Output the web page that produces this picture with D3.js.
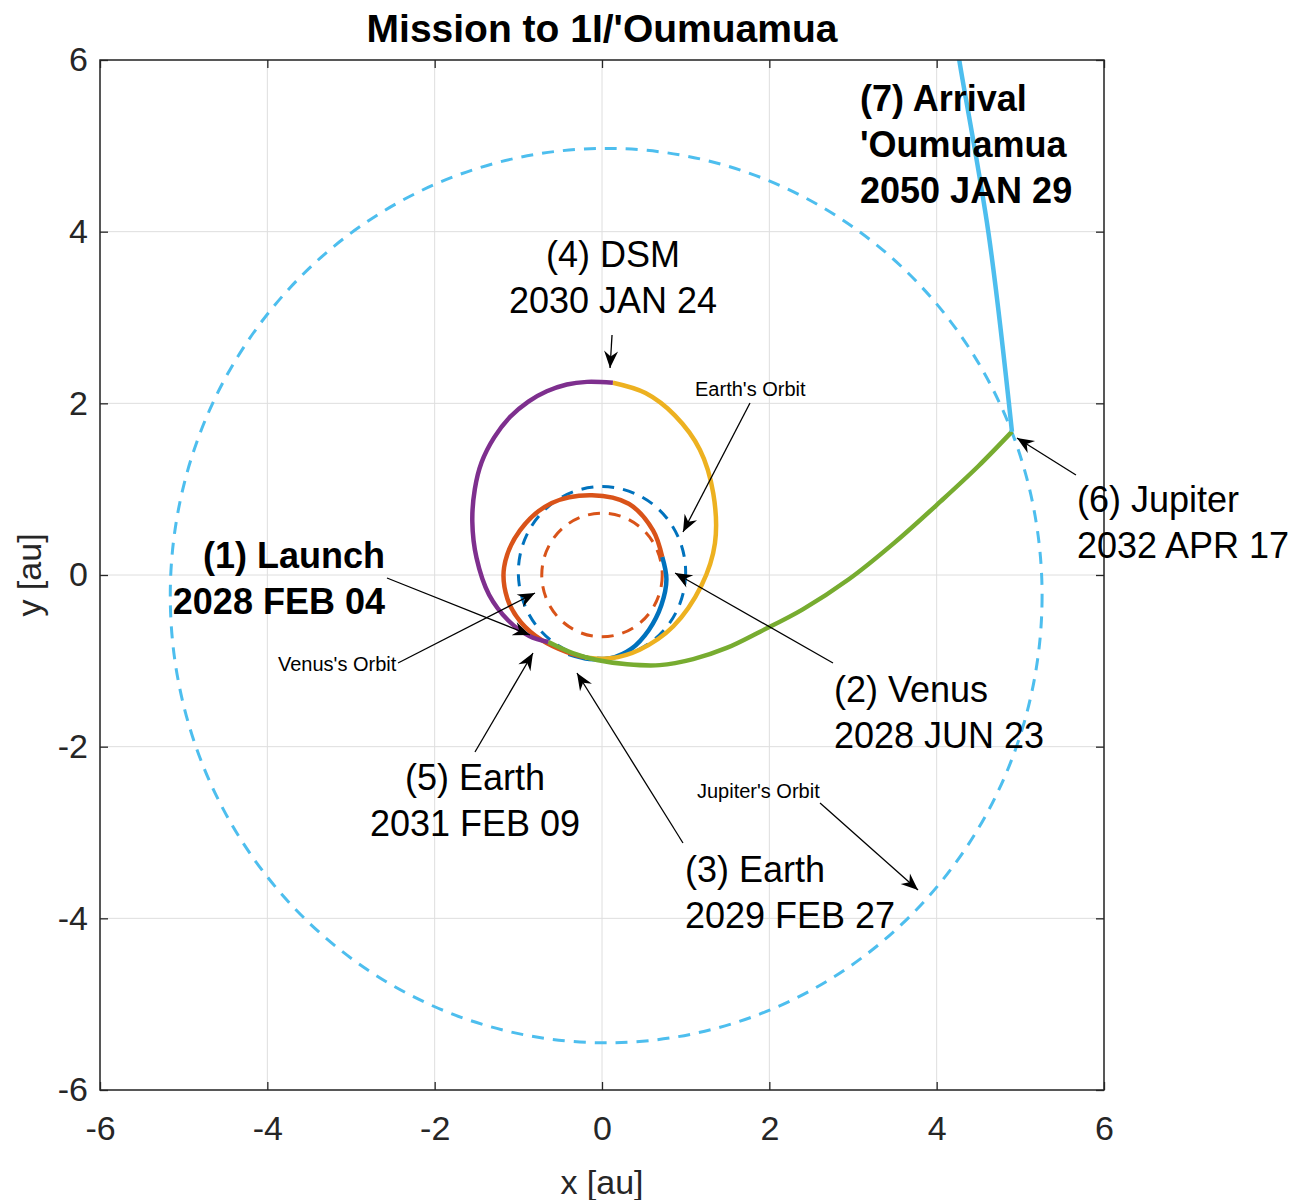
<!DOCTYPE html>
<html><head><meta charset="utf-8">
<script src="https://cdn.jsdelivr.net/npm/d3@7"></script>
<style>body{margin:0;background:#fff} svg{display:block} text{font-family:"Liberation Sans",Arial,sans-serif}</style>
</head><body><svg id="c" width="1304" height="1200"></svg>
<script>
// ---------- data ----------
const titleText = "Mission to 1I/'Oumuamua";
const xLabelText = "x [au]";
const yLabelText = "y [au]";
const xTicks = [-6, -4, -2, 0, 2, 4, 6];
const yTicks = [-6, -4, -2, 0, 2, 4, 6];
const xTickLabels = ["-6", "-4", "-2", "0", "2", "4", "6"];
const yTickLabels = ["-6", "-4", "-2", "0", "2", "4", "6"];

// planetary orbits (centre x, centre y, radius) in au
const orbitNames = ["Jupiter", "Earth", "Venus"];
const orbitCx = [0.05, 0.0, 0.0];
const orbitCy = [-0.24, 0.03, 0.0];
const orbitR = [5.21, 1.0, 0.72];

// trajectory legs [x, y] in au
const leg1 = [[-0.40,-0.92],[-0.15,-0.98],[0.10,-0.97],[0.35,-0.86],[0.56,-0.64],[0.71,-0.35],[0.77,-0.05],[0.72,0.21]];
const leg2 = [[0.72,0.21],[0.61,0.52],[0.32,0.83],[-0.12,0.93],[-0.60,0.84],[-0.98,0.52],[-1.17,0.09],[-1.13,-0.28],[-0.97,-0.55],[-0.72,-0.76],[-0.42,-0.90],[-0.20,-0.96]];
const leg3 = [[-0.20,-0.96],[0.10,-0.97],[0.45,-0.87],[0.85,-0.60],[1.19,-0.12],[1.35,0.37],[1.33,0.95],[1.17,1.46],[0.87,1.86],[0.52,2.12],[0.13,2.24]];
const leg4 = [[0.13,2.24],[-0.18,2.25],[-0.42,2.22],[-0.66,2.14],[-0.88,2.02],[-1.10,1.84],[-1.29,1.60],[-1.44,1.31],[-1.52,1.00],[-1.55,0.62],[-1.50,0.20],[-1.35,-0.23],[-1.12,-0.53],[-0.87,-0.71],[-0.64,-0.78]];
const leg5 = [[-0.64,-0.78],[-0.35,-0.91],[-0.06,-0.99],[0.30,-1.04],[0.69,-1.05],[1.09,-0.98],[1.49,-0.85],[1.89,-0.66],[2.40,-0.40],[2.95,-0.05],[3.50,0.38],[4.05,0.86],[4.50,1.27],[4.90,1.67]];
const leg6 = [[4.90,1.67],[4.62,3.98],[4.27,6.0],[4.25,6.15]];
const legs = [leg1, leg2, leg3, leg4, leg5, leg6];

// annotations: text lines, text anchor point (au), arrow tail/head (au)
const noteLines = [
  ["(1) Launch", "2028 FEB 04"],
  ["(2) Venus", "2028 JUN 23"],
  ["(3) Earth", "2029 FEB 27"],
  ["(4) DSM", "2030 JAN 24"],
  ["(5) Earth", "2031 FEB 09"],
  ["(6) Jupiter", "2032 APR 17"],
  ["(7) Arrival", "'Oumuamua", "2050 JAN 29"],
  ["Earth's Orbit"],
  ["Venus's Orbit"],
  ["Jupiter's Orbit"]
];
const noteTextX = [-2.594, 2.773, 0.992, 0.131, -1.518, 5.677, 3.084, 1.112, -3.873, 1.135];
const noteTextY = [0.082, -1.480, -3.577, 3.588, -2.505, 0.734, 5.406, 2.085, -1.118, -2.598];
const noteArrowFrom = [[-2.570,-0.035],[2.761,-1.025],[0.968,-3.122],[0.120,2.796],[-1.518,-2.062],[5.665,1.165],null,[1.769,2.004],[-2.438,-1.025],[2.606,-2.656]];
const noteArrowTo = [[-0.861,-0.699],[0.873,0.023],[-0.299,-1.142],[0.096,2.412],[-0.825,-0.909],[4.960,1.596],null,[0.968,0.501],[-0.801,-0.210],[3.777,-3.670]];

// ---------- style ----------
const legColors = ["#0072BD","#D95319","#EDB120","#7E2F8E","#77AC30","#4DBEEE"];
const orbitColors = ["#4DBEEE","#0072BD","#D95319"];
const noteAnchor = ["end","start","start","middle","middle","start","start","start","start","start"];
const noteBold = [true,false,false,false,false,false,true,false,false,false];
const noteSmall = [false,false,false,false,false,false,false,true,true,true];

const svg = d3.select("#c");
const x = d3.scaleLinear().domain([-6, 6]).range([100, 1104]);
const y = d3.scaleLinear().domain([-6, 6]).range([1090, 60]);
const axisColor = "#262626";

const defs = svg.append("defs");
defs.append("clipPath").attr("id", "clip").append("rect")
  .attr("x", x(-6)).attr("y", y(6)).attr("width", x(6) - x(-6)).attr("height", y(-6) - y(6));
defs.append("marker").attr("id", "ah")
  .attr("viewBox", "-18 -9 19 18").attr("refX", 0).attr("refY", 0)
  .attr("markerWidth", 19).attr("markerHeight", 18)
  .attr("markerUnits", "userSpaceOnUse").attr("orient", "auto")
  .append("path").attr("d", "M0,0L-17,-7L-11.5,0L-17,7Z").attr("fill", "#000");

// grid
const grid = svg.append("g").attr("stroke", "#dedede").attr("stroke-width", 1);
grid.selectAll("line.gx").data(xTicks).join("line").attr("class", "gx")
  .attr("x1", d => x(d)).attr("x2", d => x(d)).attr("y1", y(-6)).attr("y2", y(6));
grid.selectAll("line.gy").data(yTicks).join("line").attr("class", "gy")
  .attr("y1", d => y(d)).attr("y2", d => y(d)).attr("x1", x(-6)).attr("x2", x(6));

const plot = svg.append("g").attr("clip-path", "url(#clip)");

// orbits
plot.selectAll("ellipse.orbit").data(orbitNames).join("ellipse").attr("class", "orbit")
  .attr("cx", (d, i) => x(orbitCx[i])).attr("cy", (d, i) => y(orbitCy[i]))
  .attr("rx", (d, i) => x(orbitR[i]) - x(0)).attr("ry", (d, i) => y(0) - y(orbitR[i]))
  .attr("fill", "none").attr("stroke", (d, i) => orbitColors[i])
  .attr("stroke-width", 3).attr("stroke-dasharray", "12,9");

// trajectory legs
const line = d3.line().x(d => x(d[0])).y(d => y(d[1])).curve(d3.curveCatmullRom.alpha(0.5));
plot.selectAll("path.leg").data(legs).join("path").attr("class", "leg")
  .attr("d", line).attr("fill", "none").attr("stroke", (d, i) => legColors[i])
  .attr("stroke-width", 4.5).attr("stroke-linecap", "butt");

// axes (ticks inward on all four sides)
function styleAxis(g) {
  g.select(".domain").remove();
  g.selectAll(".tick line").attr("stroke", axisColor).attr("stroke-width", 1.3);
  g.selectAll(".tick text").attr("fill", axisColor)
    .style("font-family", "'Liberation Sans', Arial, sans-serif").style("font-size", "34px");
}
svg.append("g").attr("transform", `translate(0,${y(-6)})`)
  .call(d3.axisBottom(x).tickValues(xTicks).tickFormat((d, i) => xTickLabels[i]).tickSize(-8).tickPadding(26))
  .call(styleAxis);
svg.append("g").attr("transform", `translate(0,${y(6)})`)
  .call(d3.axisTop(x).tickValues(xTicks).tickFormat("").tickSize(-8)).call(styleAxis);
svg.append("g").attr("transform", `translate(${x(-6)},0)`)
  .call(d3.axisLeft(y).tickValues(yTicks).tickFormat((d, i) => yTickLabels[i]).tickSize(-8).tickPadding(12))
  .call(styleAxis);
svg.append("g").attr("transform", `translate(${x(6)},0)`)
  .call(d3.axisRight(y).tickValues(yTicks).tickFormat("").tickSize(-8)).call(styleAxis);

svg.append("rect").attr("x", x(-6)).attr("y", y(6)).attr("width", x(6) - x(-6)).attr("height", y(-6) - y(6))
  .attr("fill", "none").attr("stroke", axisColor).attr("stroke-width", 1.5);

// axis labels and title
svg.append("text").attr("x", x(0)).attr("y", 1194).attr("text-anchor", "middle")
  .attr("fill", axisColor).style("font-size", "34px").text(xLabelText);
svg.append("text").attr("transform", `translate(41,${y(0)}) rotate(-90)`).attr("text-anchor", "middle")
  .attr("fill", axisColor).style("font-size", "34px").text(yLabelText);
svg.append("text").attr("x", x(0)).attr("y", 42).attr("text-anchor", "middle")
  .attr("fill", "#000").style("font-size", "39px").style("font-weight", "bold").text(titleText);

// annotations
const notes = svg.append("g");
noteLines.forEach((lines, i) => {
  const fs = noteSmall[i] ? 20 : 36;
  const t = notes.append("text").attr("x", x(noteTextX[i])).attr("y", y(noteTextY[i]))
    .attr("text-anchor", noteAnchor[i]).attr("fill", "#000")
    .style("font-size", fs + "px").style("font-weight", noteBold[i] ? "bold" : "normal");
  lines.forEach((s, k) => {
    t.append("tspan").attr("x", x(noteTextX[i])).attr("dy", k === 0 ? 0 : 46).text(s);
  });
  if (noteArrowFrom[i]) {
    notes.append("line")
      .attr("x1", x(noteArrowFrom[i][0])).attr("y1", y(noteArrowFrom[i][1]))
      .attr("x2", x(noteArrowTo[i][0])).attr("y2", y(noteArrowTo[i][1]))
      .attr("stroke", "#000").attr("stroke-width", 1.3).attr("marker-end", "url(#ah)");
  }
});
</script></body></html>
